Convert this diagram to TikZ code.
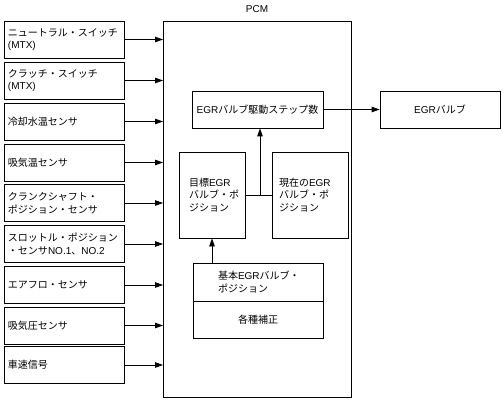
\documentclass[tikz,border=0pt]{standalone}
\usepackage{fontspec}
\setmainfont{Noto Sans CJK JP}
\newfontfamily\lat{Liberation Sans}
\usetikzlibrary{arrows.meta}
\begin{document}
\begin{tikzpicture}[x=1pt,y=-1pt,
  box/.style={draw, line width=0.8pt, inner sep=0pt, font=\fontsize{10}{12.5}\selectfont},
  inbox/.style={box, minimum width=120pt, minimum height=37pt, text width=112pt, align=left, inner xsep=4pt},
  lbl/.style={inner sep=0pt, font=\fontsize{10}{12.5}\selectfont},
  arr/.style={-{Triangle[length=8pt,width=5.5pt]}, line width=0.8pt}]
\useasboundingbox (0,0) rectangle (503,401);
% PCM
\node[box, minimum width=188pt, minimum height=376pt, anchor=north west] (pcm) at (163,21) {};
\node[lbl] (pcml) at (257,9) {\lat PCM};
% inputs
\node[inbox] (s1) at (64,39.5) {ニュートラル・スイッチ\\{\lat(MTX)}};
\node[inbox] (s2) at (64,80.5) {クラッチ・スイッチ\\{\lat(MTX)}};
\node[inbox] (s3) at (64,121.5) {冷却水温センサ};
\node[inbox] (s4) at (64,162.5) {吸気温センサ};
\node[inbox] (s5) at (64,203) {クランクシャフト・\\ポジション・センサ};
\node[inbox] (s6) at (64,244) {スロットル・ポジション\\・センサ{\lat NO.1}、{\lat NO.2}};
\node[inbox] (s7) at (64,285) {エアフロ・センサ};
\node[inbox] (s8) at (64,325.5) {吸気圧センサ};
\node[inbox] (s9) at (64,365) {車速信号};
\foreach \i in {1,...,9}{
  \draw[arr] (s\i.east) -- (s\i.east -| pcm.west);
}
% inner blocks
\node[box, minimum width=131pt, minimum height=37pt] (step) at (257.5,109.5) {{\lat EGR}バルブ駆動ステップ数};
\node[box, minimum width=120pt, minimum height=37pt] (valve) at (440,109.5) {{\lat EGR}バルブ};
\draw[arr] (step.east) -- (valve.west);
\node[box, minimum width=66pt, minimum height=86pt, text width=46pt, inner xsep=10pt, align=left] (target) at (212,195) {目標{\lat EGR}\\バルブ・ポ\\ジション};
\node[box, minimum width=76pt, minimum height=86pt, text width=62pt, inner xsep=7pt, align=left] (current) at (310,195) {現在の{\lat EGR}\\バルブ・ポ\\ジション};
\draw[line width=0.8pt] (target.east) -- (current.west);
\coordinate (j) at (260,195);
\draw[arr] (j) -- (j |- step.south);
\node[box, minimum width=130pt, minimum height=38pt, text width=80pt, inner xsep=25pt, align=left] (basic) at (258,282) {基本{\lat EGR}バルブ・\\ポジション};
\node[box, minimum width=130pt, minimum height=37pt] (corr) at (258,319.5) {各種補正};
\draw[arr] (target.south |- basic.north) -- (target.south);
\end{tikzpicture}
\end{document}
